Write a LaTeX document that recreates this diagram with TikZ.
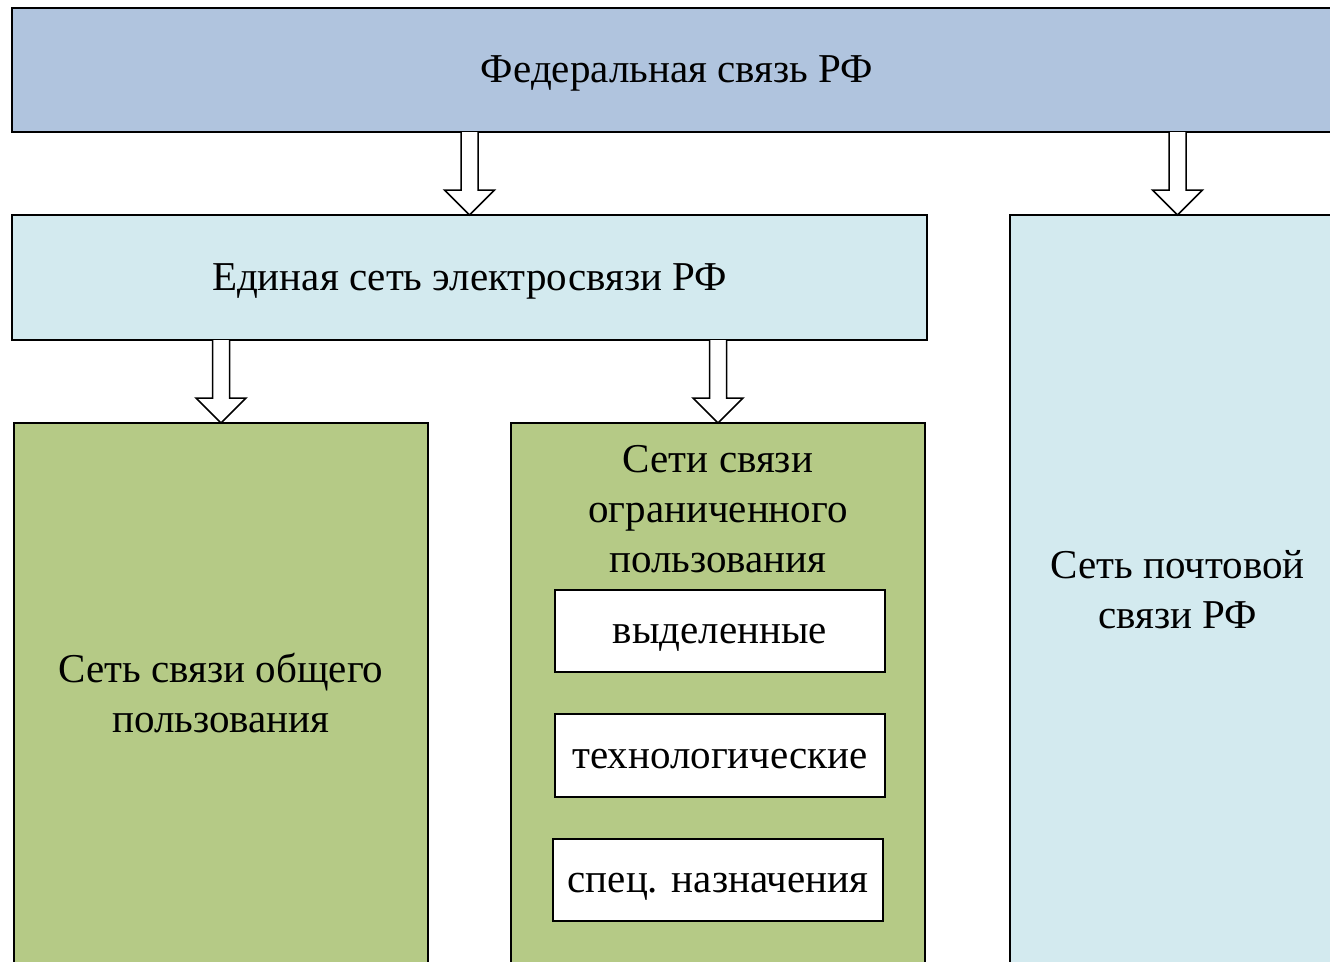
\documentclass[tikz,border=0pt]{standalone}
\usepackage{fontspec}
\setmainfont{Liberation Serif}
\usetikzlibrary{calc}
\definecolor{fedblue}{HTML}{B0C4DE}
\definecolor{lightaqua}{HTML}{D3EAEF}
\definecolor{olivegreen}{HTML}{B5CA86}
\tikzset{
  boxstyle/.style={draw=black, line width=1.5pt, inner sep=0pt, outer sep=0pt,
    anchor=north west, align=center, font=\fontsize{41}{50}\selectfont},
  oneline/.style={text height=25pt, text depth=0pt},
  labeltext/.style={font=\fontsize{41}{50}\selectfont, align=center, inner sep=0pt},
  subbox/.style={boxstyle, oneline, fill=white},
  hollowarrow/.style={draw=black, line width=1.5pt, fill=white, line join=miter}
}
% hollow block arrow from #1 down to #2
\newcommand\blockarrow[2]{%
  \draw[hollowarrow] let \p1=(#1), \p2=(#2) in
    (\x2-8.5pt,\y1) -- (\x2-8.5pt,\y2+25pt) -- (\x2-25pt,\y2+25pt) -- (\x2,\y2)
    -- (\x2+25pt,\y2+25pt) -- (\x2+8.5pt,\y2+25pt) -- (\x2+8.5pt,\y1);%
}
\begin{document}
\begin{tikzpicture}[x=1pt,y=-1pt]
\useasboundingbox (0,0) rectangle (1330,961);
\clip (0,0) rectangle (1330,961);
\fill[white] (0,0) rectangle (1330,961);

% top level
\node[boxstyle, oneline, fill=fedblue, minimum width=1330pt, minimum height=124pt]
  (fed) at (12,8) {Федеральная связь РФ};

% second level
\node[boxstyle, oneline, fill=lightaqua, minimum width=915pt, minimum height=125pt]
  (ese) at (12,215) {Единая сеть электросвязи РФ};
\node[boxstyle, fill=lightaqua, minimum width=335pt, minimum height=750pt]
  (post) at (1010,215) {Сеть почтовой\\связи РФ};

% third level
\node[boxstyle, fill=olivegreen, minimum width=414pt, minimum height=540pt]
  (public) at (14,423) {Сеть связи общего\\пользования};
\node[boxstyle, fill=olivegreen, minimum width=414pt, minimum height=540pt]
  (limited) at (511,423) {};
\node[labeltext, anchor=north] (limhead) at ($(limited.north)+(0,22)$)
  {Сети связи\\ограниченного\\пользования};

% kinds of restricted networks
\node[subbox, minimum width=330pt, minimum height=82pt] (dedicated) at (555,590) {выделенные};
\node[subbox, minimum width=330pt, minimum height=83pt] (techno) at (555,714) {технологические};
\node[subbox, minimum width=330pt, minimum height=82pt] (special) at (553,839) {спец. назначения};

% connectors
\blockarrow{fed.south}{ese.north}
\blockarrow{fed.south}{post.north}
\blockarrow{ese.south}{public.north}
\blockarrow{ese.south}{limited.north}
\end{tikzpicture}
\end{document}
